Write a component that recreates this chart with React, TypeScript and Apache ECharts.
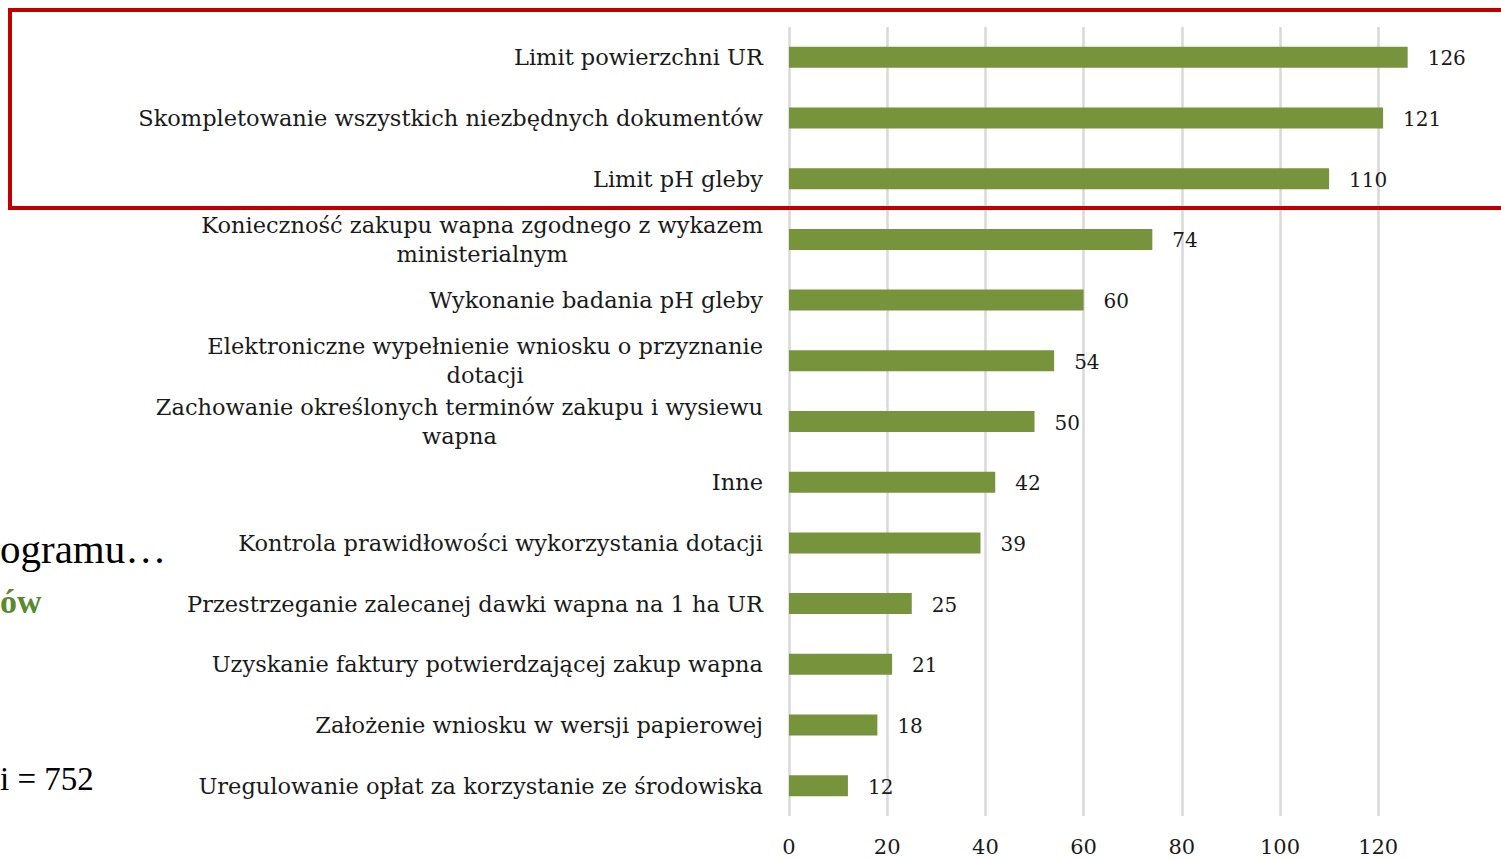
import React, { useEffect, useRef } from "react";
import * as echarts from "echarts";

const categories: string[] = [
  "Limit powierzchni UR",
  "Skompletowanie wszystkich niezbędnych dokumentów",
  "Limit pH gleby",
  "Konieczność zakupu wapna zgodnego z wykazem\nministerialnym",
  "Wykonanie badania pH gleby",
  "Elektroniczne wypełnienie wniosku o przyznanie\ndotacji",
  "Zachowanie określonych terminów zakupu i wysiewu\nwapna",
  "Inne",
  "Kontrola prawidłowości wykorzystania dotacji",
  "Przestrzeganie zalecanej dawki wapna na 1 ha UR",
  "Uzyskanie faktury potwierdzającej zakup wapna",
  "Założenie wniosku w wersji papierowej",
  "Uregulowanie opłat za korzystanie ze środowiska",
];
const values: number[] = [126, 121, 110, 74, 60, 54, 50, 42, 39, 25, 21, 18, 12];
const sideTexts: string[] = ["ogramu…", "ów", "i = 752"];

export default function App() {
  const ref = useRef<HTMLDivElement>(null);
  useEffect(() => {
    if (!ref.current) return;
    const chart = echarts.init(ref.current, undefined, { renderer: "svg" });
    const serif = "DejaVu Serif";
    chart.setOption({
      animation: false,
      backgroundColor: "#ffffff",
      grid: { left: 789, top: 27, width: 687.4, height: 789, containLabel: false },
      xAxis: {
        type: "value",
        min: 0,
        max: 140,
        interval: 20,
        axisLine: { show: false },
        axisTick: { show: false },
        axisLabel: {
          fontFamily: serif,
          fontSize: 21,
          color: "#1a1a1a",
          margin: 20,
          showMaxLabel: false,
        },
        splitLine: {
          show: true,
          showMaxLine: false,
          lineStyle: { color: "#d9d9d9", width: 2.5 },
        },
      },
      yAxis: {
        type: "category",
        data: categories,
        inverse: true,
        axisLine: { show: false },
        axisTick: { show: false },
        axisLabel: {
          margin: 26,
          fontFamily: serif,
          fontSize: 22.5,
          color: "#1a1a1a",
          lineHeight: 29,
          formatter: (v: string) =>
            v
              .split("\n")
              .map((l) => `{c|${l}}`)
              .join("\n"),
          rich: {
            c: {
              align: "center",
              fontFamily: serif,
              fontSize: 22.5,
              color: "#1a1a1a",
              lineHeight: 29,
            },
          },
        },
      },
      series: [
        {
          type: "bar",
          data: values,
          barWidth: 21,
          itemStyle: { color: "#77933c" },
          label: {
            show: true,
            position: "right",
            distance: 20,
            fontFamily: serif,
            fontSize: 20,
            color: "#1a1a1a",
            offset: [0, 1],
          },
        },
      ],
      graphic: [
        {
          type: "rect",
          shape: { x: 10, y: 10, width: 1540, height: 198 },
          style: { fill: "none", stroke: "#c00000", lineWidth: 4 },
          z: 100,
        },
        {
          type: "text",
          left: 0,
          top: 528,
          style: {
            text: sideTexts[0],
            font: "41px 'Liberation Serif'",
            fill: "#000000",
          },
        },
        {
          type: "text",
          left: 0,
          top: 584,
          style: {
            text: sideTexts[1],
            font: "bold 34px 'Liberation Serif'",
            fill: "#5a8a2e",
          },
        },
        {
          type: "text",
          left: 0,
          top: 762,
          style: {
            text: sideTexts[2],
            font: "33px 'Liberation Serif'",
            fill: "#000000",
          },
        },
      ],
    });
    return () => chart.dispose();
  }, []);
  return (
    <div
      ref={ref}
      style={{ position: "fixed", left: 0, top: 0, width: 1501, height: 859 }}
    />
  );
}
